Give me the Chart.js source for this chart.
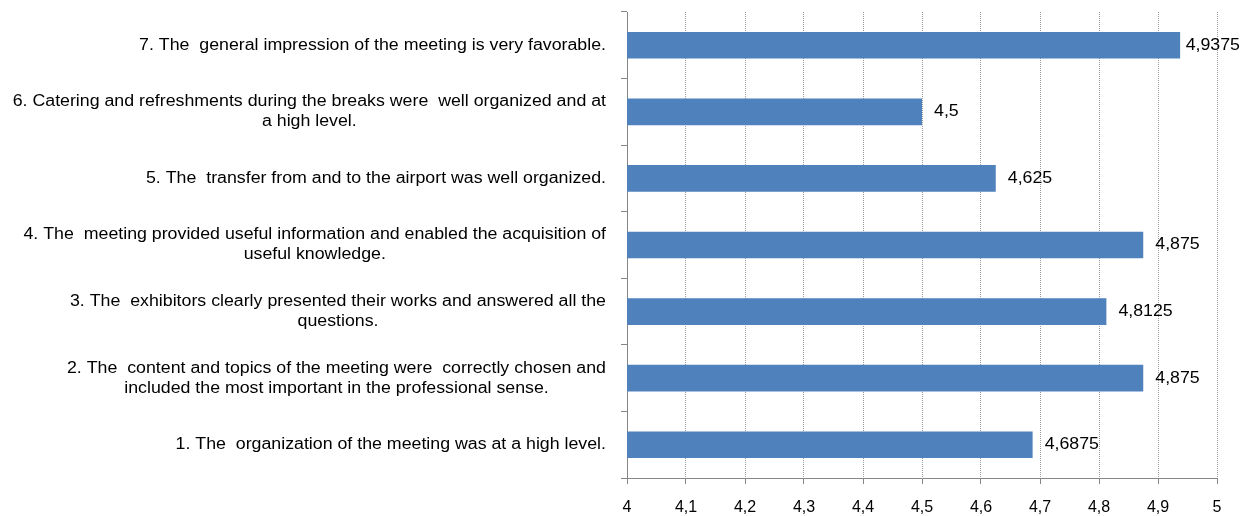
<!DOCTYPE html>
<html>
<head>
<meta charset="utf-8">
<script src="https://cdn.jsdelivr.net/npm/chart.js@4"></script>
<style>
html,body{margin:0;padding:0;background:#fff;}
#wrap{width:1248px;height:516px;}
</style>
</head>
<body>
<div id="wrap"><canvas id="c" width="1248" height="516"></canvas></div>
<script>
// Categories, bottom (1) to top (7); each entry is a list of text lines
const categories = [
  ["1. The  organization of the meeting was at a high level."],
  ["2. The  content and topics of the meeting were  correctly chosen and", "included the most important in the professional sense."],
  ["3. The  exhibitors clearly presented their works and answered all the", "questions."],
  ["4. The  meeting provided useful information and enabled the acquisition of", "useful knowledge."],
  ["5. The  transfer from and to the airport was well organized."],
  ["6. Catering and refreshments during the breaks were  well organized and at", "a high level."],
  ["7. The  general impression of the meeting is very favorable."]
];
const scores = [4.6875, 4.875, 4.8125, 4.875, 4.625, 4.5, 4.9375];
const xTicks = [4, 4.1, 4.2, 4.3, 4.4, 4.5, 4.6, 4.7, 4.8, 4.9, 5];

const FAMILY = '"Liberation Sans", Arial, sans-serif';
const FONT = '16px ' + FAMILY;
const SX = 1.11;
const fmt = v => String(v).replace('.', ',');

function drawText(ctx, text, x, y, align) {
  const w = ctx.measureText(text).width * SX;
  let left = x;
  if (align === 'center') left = x - w / 2;
  else if (align === 'right') left = x - w;
  ctx.save();
  ctx.translate(left, y);
  ctx.scale(SX, 1);
  ctx.textAlign = 'left';
  ctx.fillText(text, 0, 0);
  ctx.restore();
  return w;
}

const labelPlugin = {
  id: 'labels',
  afterDraw(chart) {
    const ctx = chart.ctx;
    const y = chart.scales.y;
    const meta = chart.getDatasetMeta(0);
    ctx.save();
    ctx.font = FONT;
    ctx.fillStyle = '#000';
    ctx.textBaseline = 'middle';
    const rightEdge = chart.chartArea.left - 21;
    const lh = 20;
    categories.forEach((lines, i) => {
      const cy = y.getPixelForValue(i);
      const maxW = Math.max(...lines.map(l => ctx.measureText(l).width)) * SX;
      const cx = rightEdge - maxW / 2;
      const y0 = cy - (lines.length - 1) * lh / 2;
      lines.forEach((l, k) => drawText(ctx, l, cx, y0 + k * lh, 'center'));
    });
    const maxRight = chart.width - 8;
    meta.data.forEach((bar, i) => {
      const t = fmt(scores[i]);
      const w = ctx.measureText(t).width * SX;
      const x = Math.min(bar.x + 12, maxRight - w);
      drawText(ctx, t, x, bar.y, 'left');
    });
    ctx.restore();
  }
};

new Chart(document.getElementById('c'), {
  type: 'bar',
  data: {
    labels: categories,
    datasets: [{
      data: scores,
      backgroundColor: '#4F81BD',
      borderWidth: 0,
      categoryPercentage: 1,
      barPercentage: 0.4
    }]
  },
  options: {
    indexAxis: 'y',
    responsive: false,
    animation: false,
    layout: { padding: { top: 12, right: 31, left: 0, bottom: 0 } },
    plugins: { legend: { display: false }, tooltip: { enabled: false } },
    scales: {
      x: {
        type: 'linear',
        min: 4, max: 5,
        afterBuildTicks(s) { s.ticks = xTicks.map(v => ({ value: v })); },
        afterFit(s) { s.height = 38; },
        ticks: {
          font: { family: FAMILY, size: 16 },
          color: '#000',
          padding: 14,
          maxRotation: 0,
          autoSkip: false,
          callback: v => fmt(Math.round(v * 10) / 10)
        },
        grid: {
          color: '#9A9A9A',
          lineWidth: 1,
          drawTicks: true,
          tickLength: 6,
          tickColor: '#868686'
        },
        border: { display: true, color: '#868686', width: 1, dash: [1, 1] }
      },
      y: {
        reverse: true,
        afterFit(s) { s.width = 627; },
        ticks: { display: false },
        grid: {
          drawOnChartArea: false,
          drawTicks: true,
          tickLength: 6,
          tickColor: '#868686',
          offset: true
        },
        border: { display: true, color: '#868686', width: 1 }
      }
    }
  },
  plugins: [labelPlugin]
});
</script>
</body>
</html>
